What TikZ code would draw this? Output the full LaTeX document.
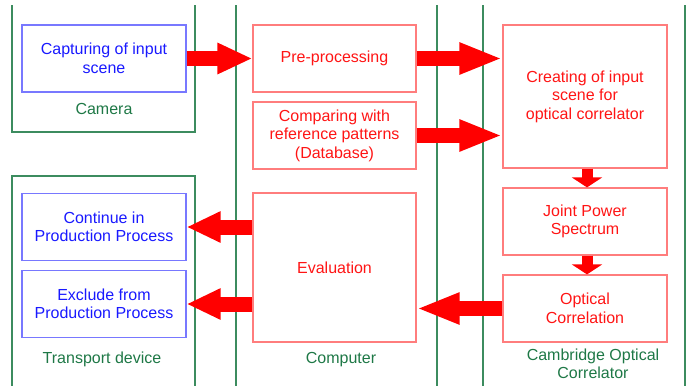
\documentclass[tikz,border=0pt]{standalone}
\usepackage{fontspec}
\setmainfont{Liberation Sans}
\usetikzlibrary{arrows.meta,calc}

\definecolor{frameg}{RGB}{60,140,95}
\definecolor{labelg}{RGB}{30,120,70}
\definecolor{redline}{RGB}{255,125,125}
\definecolor{redtxt}{RGB}{255,20,20}
\definecolor{blueline}{RGB}{120,120,255}
\definecolor{bluetxt}{RGB}{25,25,255}
\definecolor{arrowred}{RGB}{255,0,0}

\begin{document}
\begin{tikzpicture}[x=1pt,y=-1pt,
  box/.style={draw, line width=1.2pt, align=center, inner sep=0pt,
    font=\fontsize{16}{18.5}\selectfont},
  redbox/.style={box, draw=redline, text=redtxt},
  bluebox/.style={box, draw=blueline, text=bluetxt},
  frameline/.style={draw=frameg, line width=1.2pt},
  lbl/.style={text=labelg, align=center, inner sep=0pt,
    font=\fontsize{16}{18.5}\selectfont},
  bigarrow/.style={draw=arrowred, line width=15pt,
    -{Triangle[length=#1, width=29pt]}},
  downarrow/.style={draw=arrowred, line width=11pt,
    -{Triangle[length=10pt, width=30pt]}}
]
\useasboundingbox (0,0) rectangle (689,386);

% swim-lane frames
\path[frameline] (12,5) -- (12,132) -- (195,132) -- (195,5);
\path[frameline] (12,392) -- (12,176) -- (195,176) -- (195,392);
\path[frameline] (236,5) -- (236,392);
\path[frameline] (437,5) -- (437,392);
\path[frameline] (483,5) -- (483,392);
\path[frameline] (685,5) -- (685,392);

% lane labels
\node[lbl] (lcam) at (104,109) {Camera};
\node[lbl] (ltra) at (102,359) {Transport device};
\node[lbl] (lcomp) at (341,360) {Computer};
\node[lbl] (lcoc) at (593,364) {Cambridge Optical\\Correlator};

% process boxes
\node[bluebox, minimum width=164pt, minimum height=67pt] (cap) at (104,58.5)
  {Capturing of input\\scene};
\node[redbox, minimum width=163pt, minimum height=67pt] (pre) at (334.5,58.5)
  {Pre-processing};
\node[redbox, minimum width=163pt, minimum height=67pt] (cmp) at (334.5,135.5)
  {Comparing with\\reference patterns\\(Database)};
\node[redbox, minimum width=164pt, minimum height=143pt] (crt) at (585,96.5)
  {Creating of input\\scene for\\optical correlator};
\node[redbox, minimum width=164pt, minimum height=67pt] (jps) at (585,221.5)
  {Joint Power\\Spectrum};
\node[redbox, minimum width=164pt, minimum height=67pt] (ocr) at (585,308.5)
  {Optical\\Correlation};
\node[redbox, minimum width=163pt, minimum height=149pt] (eva) at (334.5,267.5)
  {Evaluation};
\node[bluebox, minimum width=164pt, minimum height=67pt] (con) at (104,227)
  {Continue in\\Production Process};
\node[bluebox, minimum width=164pt, minimum height=67pt] (exc) at (104,304)
  {Exclude from\\Production Process};

% block arrows
\draw[bigarrow=35pt] (cap.east) -- (pre.west);
\draw[bigarrow=43pt] (pre.east) -- (pre.east -| crt.west);
\draw[bigarrow=43pt] (cmp.east) -- (cmp.east -| crt.west);
\draw[downarrow] ([xshift=2pt]crt.south) -- ([xshift=2pt]jps.north);
\draw[downarrow] ([xshift=2pt]jps.south) -- ([xshift=2pt]ocr.north);
\draw[bigarrow=43pt] (ocr.west) -- (ocr.west -| eva.east);
\draw[bigarrow=34pt] (con.east -| eva.west) -- (con.east);
\draw[bigarrow=34pt] (exc.east -| eva.west) -- (exc.east);
\end{tikzpicture}
\end{document}
